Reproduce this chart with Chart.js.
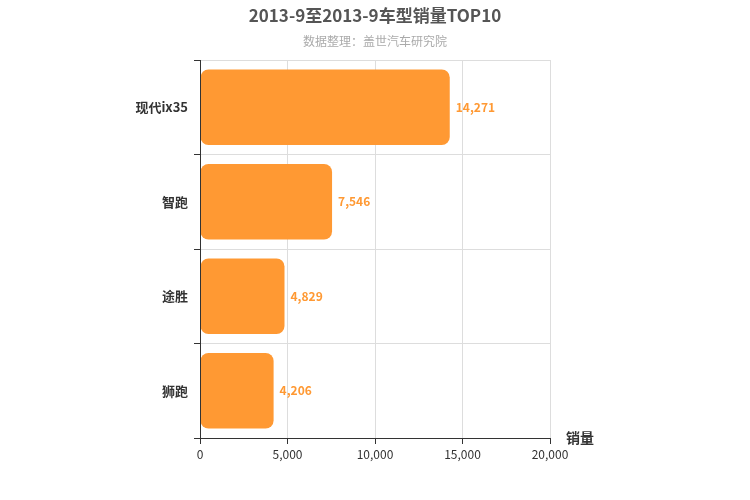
<!DOCTYPE html><html><head><meta charset="utf-8">
<script src="https://cdn.jsdelivr.net/npm/chart.js@4"></script>
<style>body{margin:0}#w{width:750px;height:500px}</style></head><body><div id="w"><canvas id="c"></canvas></div>
<script>
const categories=['现代ix35','智跑','途胜','狮跑'];
const sales=[14271,7546,4829,4206];
const xTicks=[0,5000,10000,15000,20000];
const F='"Noto Sans CJK SC", sans-serif';
const deco={id:'deco',afterDraw(ch){const c=ch.ctx;c.save();c.textAlign='center';c.textBaseline='middle';
c.fillStyle='#555';c.font='bold 17px '+F;c.fillText('2013-9至2013-9车型销量TOP10',375,16);
c.fillStyle='#aaa';c.font='12px '+F;c.fillText('数据整理：盖世汽车研究院',375,41);
c.fillStyle='#333';c.font='bold 14px '+F;c.fillText('销量',580,438);
const m=ch.getDatasetMeta(0);c.fillStyle='#ff9933';c.font='bold 12px '+F;c.textAlign='left';
m.data.forEach((b,i)=>c.fillText(sales[i].toLocaleString('en-US'),b.x+6,b.y));
const a=ch.chartArea;c.strokeStyle='#333';c.lineWidth=1;c.beginPath();c.moveTo(a.left+0.5,a.top);c.lineTo(a.left+0.5,a.bottom);c.moveTo(a.left,a.bottom+0.5);c.lineTo(a.right,a.bottom+0.5);c.stroke();
c.restore();}};
new Chart(document.getElementById('c'),{type:'bar',data:{labels:categories,datasets:[{data:sales,backgroundColor:'#ff9933',borderRadius:8,borderSkipped:false,categoryPercentage:0.8,barPercentage:1}]},
options:{indexAxis:'y',responsive:true,maintainAspectRatio:false,animation:false,layout:{padding:{top:60,right:200,left:0,bottom:0}},
plugins:{legend:{display:false},tooltip:{enabled:false},title:{display:false}},
scales:{x:{min:0,max:20000,afterBuildTicks(s){s.ticks=xTicks.map(v=>({value:v}))},afterFit(s){s.height=62},
ticks:{color:'#333',font:{size:12,family:F},callback:v=>v.toLocaleString('en-US')},grid:{color:'#ddd',tickLength:6,tickColor:'#333'},border:{color:'#333'}},
y:{afterFit(s){s.width=200},ticks:{color:'#333',font:{size:13,family:F,weight:'bold'},padding:6},grid:{color:'#ddd',offset:true,tickLength:6,tickColor:'#333'},border:{color:'#333'}}}},
plugins:[deco]});
</script></body></html>
